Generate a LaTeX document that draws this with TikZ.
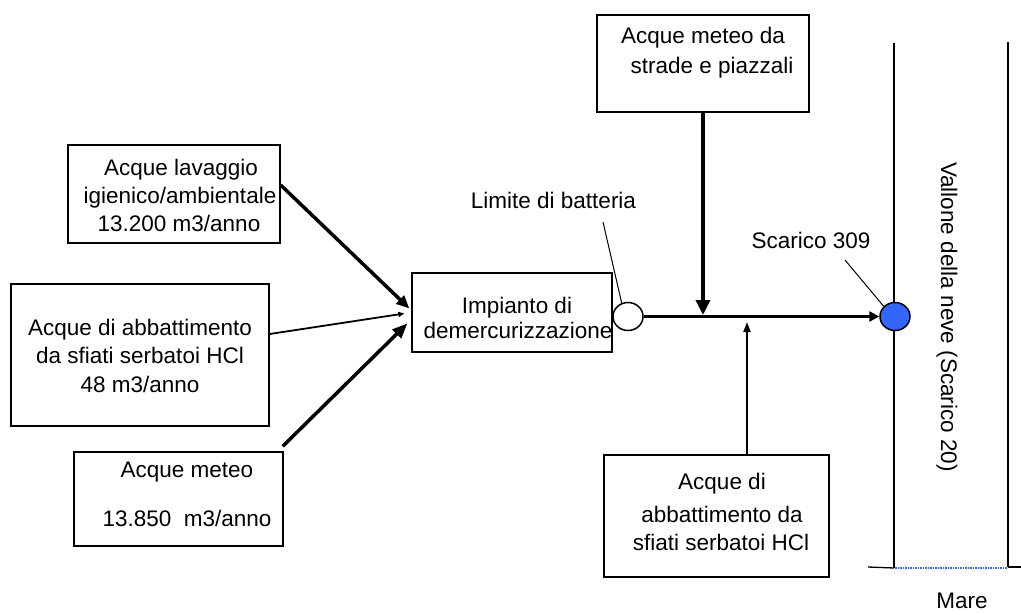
\documentclass[tikz,border=0pt]{standalone}
\usepackage{fontspec}
\setmainfont{Liberation Sans}
\usetikzlibrary{arrows.meta,calc,shapes.geometric}
\definecolor{scaricoblu}{RGB}{51,102,255}
\begin{document}
\begin{tikzpicture}[x=1pt,y=-1pt,
  box/.style={draw, line width=1.3pt, inner sep=0pt},
  txt/.style={anchor=base, inner sep=0pt, font=\fontsize{22.5}{27}\selectfont},
  flow/.style={line width=3.5pt},
  thinflow/.style={line width=1.8pt},
  leader/.style={line width=1pt},
  riverline/.style={line width=1.3pt},
  bigtip/.style={-{Triangle[length=13pt,width=11pt]}},
  port/.style={draw, ellipse, line width=1.5pt, inner sep=0pt}]
\useasboundingbox (0,0) rectangle (1021,614);

% source boxes on the left
\node[box, minimum width=212pt, minimum height=98pt] (lav) at (174,194) {};
\node[txt] (lav1) at (181,175) {Acque lavaggio};
\node[txt] (lav2) at (180,203) {igienico/ambientale};
\node[txt] (lav3) at (179,231) {13.200 m3/anno};

\node[box, minimum width=258pt, minimum height=142pt] (hcl) at (140,355) {};
\node[txt] (hcl1) at (140,335) {Acque di abbattimento};
\node[txt] (hcl2) at (140,363) {da sfiati serbatoi HCl};
\node[txt] (hcl3) at (140,392) {48 m3/anno};

\node[box, minimum width=209pt, minimum height=94pt] (met) at (178.5,499) {};
\node[txt] (met1) at (187,477) {Acque meteo};
\node[txt] (met2) at (187,526) {13.850\ \ m3/anno};

% treatment plant
\node[box, minimum width=200pt, minimum height=79pt] (imp) at (512,312.5) {};
\node[txt] (imp1) at (517,313) {Impianto di};
\node[txt] (imp2) at (518,338) {demercurizzazione};

% battery limit
\node[port, fill=white, minimum width=30pt, minimum height=28pt] (lim) at (628,316.5) {};
\node[txt] (limtxt) at (553.5,208) {Limite di batteria};
\coordinate (limpt) at (603,222);
\draw[leader] (limpt) -- (lim.115);

% side inflows
\node[box, minimum width=212pt, minimum height=97pt] (top) at (703,63.5) {};
\node[txt] (top1) at (703,43) {Acque meteo da};
\node[txt] (top2) at (712,73) {strade e piazzali};

\node[box, minimum width=225pt, minimum height=122pt] (bot) at (716.5,516) {};
\node[txt] (bot1) at (722,489) {Acque di};
\node[txt] (bot2) at (722,522) {abbattimento da};
\node[txt] (bot3) at (721,550) {sfiati serbatoi HCl};

% stream banks and the sea
\draw[riverline] (894,43) -- (894,568);
\draw[riverline] (1008,42) -- (1008,567);
\draw[riverline] (868,567) -- (894,568);
\draw[riverline] (1008,567) -- (1021,567);
\draw[scaricoblu, line width=2.2pt, dash pattern=on 1.6pt off 0.9pt] (895,568) -- (1007,568);
\node[txt, anchor=center, rotate=-90] (vallone) at (947,317) {Vallone della neve (Scarico 20)};
\node[txt] (mare) at (962,608) {Mare};

% outfall 309
\node[port, fill=scaricoblu, minimum width=30pt, minimum height=28pt] (sc) at (895,316.5) {};
\node[txt] (sctxt) at (811,248) {Scarico 309};
\coordinate (scpt) at (845,260);
\draw[leader] (scpt) -- (sc.138);

% flows into the plant
\draw[flow, bigtip] ($(lav.east)+(0,-9)$) -- ($(imp.west)+(-2,-4)$);
\draw[thinflow, -{Triangle[length=6pt,width=5pt]}] ($(hcl.east)+(0,-21)$) -- ($(imp.west)+(-7,1)$);
\draw[flow, -{Triangle[length=15pt,width=12pt]}] ($(met.north east)+(-1,-5)$) -- ($(imp.west)+(-4,11)$);

% discharge line
\coordinate (j1) at (703,315);
\coordinate (j2) at (747,322);
\draw[flow, -{Triangle[length=10pt,width=10pt]}] (lim.east) -- (sc.west);
\draw[flow, -{Triangle[length=15pt,width=14pt]}] (top.south) -- (j1);
\draw[line width=2pt, -{Triangle[length=10pt,width=7pt]}] (bot.north -| j2) -- (j2);
\end{tikzpicture}
\end{document}
